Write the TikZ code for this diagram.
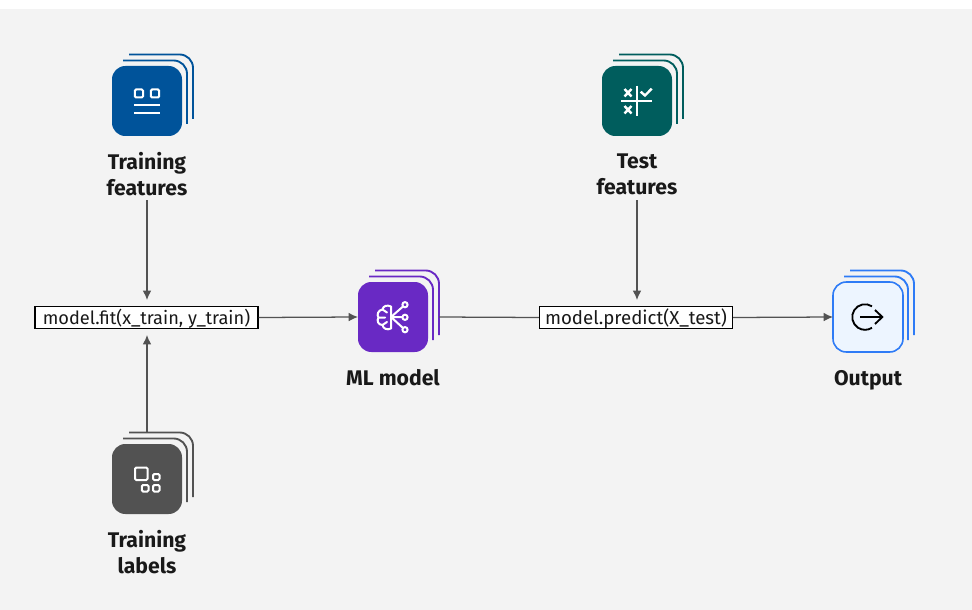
\documentclass[tikz,border=0pt]{standalone}
\usepackage{fontspec}
\setmainfont{Fira Sans}
\definecolor{bgc}{HTML}{F3F3F3}
\definecolor{cblue}{HTML}{00539A}
\definecolor{cteal}{HTML}{005D5D}
\definecolor{cpurple}{HTML}{6929C4}
\definecolor{cgray}{HTML}{525252}
\definecolor{cout}{HTML}{2E7BF6}
\definecolor{coutf}{HTML}{EDF5FF}
\definecolor{arrowc}{HTML}{525252}
\usetikzlibrary{arrows.meta}
\tikzset{
  x=0.75pt,y=-0.75pt,
  cardstack/.style={line width=1.4pt,rounded corners=10pt},
  cardnode/.style={minimum width=52.5pt,minimum height=52.5pt,rounded corners=10pt,inner sep=0pt,outer sep=0pt},
  caption/.style={font=\bfseries\fontsize{15.9}{19.5}\selectfont,align=center,text=black!90,inner sep=0pt},
  codebox/.style={draw=black,line width=1.2pt,fill=white,inner sep=0pt,minimum height=16.5pt,text=black!90},
  codetext/.style={text=black!90,inner sep=0pt},
  flow/.style={draw=arrowc,line width=0.95pt,-{Latex[length=7pt,width=6.5pt]}},
  plainflow/.style={draw=arrowc,line width=0.95pt},
  glyph/.style={white,line width=1.5pt},
}
\newcommand{\stack}[3]{% x,y top-left of front card, colour
  \draw[#3,cardstack] (#1+11,#2-5.5) -- (#1+75,#2-5.5) -- (#1+75,#2+58);
  \draw[#3,cardstack] (#1+17,#2-11.5) -- (#1+81,#2-11.5) -- (#1+81,#2+53);
}
\begin{document}
\begin{tikzpicture}
\useasboundingbox (0,0) rectangle (972,610);
\fill[white] (0,0) rectangle (972,610);
\fill[bgc] (0,9) rectangle (972,610);

% stacks
\stack{112}{66}{cblue}
\stack{602}{66}{cteal}
\stack{358}{282}{cpurple}
\stack{833}{282}{cout}
\stack{112}{444}{cgray}

% cards
\node[cardnode,fill=cblue] (tf) at (147,101) {};
\node[cardnode,fill=cteal] (te) at (637,101) {};
\node[cardnode,fill=cpurple] (ml) at (393,317) {};
\node[cardnode,fill=coutf,draw=cout,line width=1.2pt] (ou) at (868,317) {};
\node[cardnode,fill=cgray] (tl) at (147,479) {};

% captions
\node[caption] (tfc) at (147,174) {Training\\features};
\node[caption] (tec) at (637,174.5) {Test\\features};
\node[caption] (mlc) at (393,378) {ML model};
\node[caption] (ouc) at (868,380) {Output};
\node[caption] (tlc) at (147,552) {Training\\labels};

% code boxes
\node[codebox,minimum width=167pt] (fit) at (146.5,317.5) {};
\node[codetext,font=\fontsize{13.65}{15}\selectfont] (fittext) at (146.5,319) {model.fit(x\_train, y\_train)};
\node[codebox,minimum width=144.5pt] (pred) at (636,317.5) {};
\node[codetext,font=\fontsize{14}{15}\selectfont] (predtext) at (636,319) {model.predict(X\_test)};

% connectors
\coordinate (fittop) at (147,300);
\coordinate (fitbot) at (147,335);
\coordinate (predtop) at (637,300);
\coordinate (tfstart) at (147,200);
\coordinate (testart) at (637,200);
\coordinate (tlstart) at (147,433);
\coordinate (mlout) at (439,317);
\draw[flow] (tfstart) -- (fittop);
\draw[flow] (tlstart) -- (fitbot);
\draw[flow] (fit.east) -- (ml.west);
\draw[plainflow] (mlout) -- (pred.west);
\draw[flow] (testart) -- (predtop);
\draw[flow] (pred.east) -- (ou.west);

% icon: training features
\draw[glyph,rounded corners=1pt] (134.8,89.5) rectangle (143,97.5);
\draw[glyph,rounded corners=1pt] (150.8,89.5) rectangle (159.2,97.5);
\draw[glyph] (134,105.3) -- (160,105.3);
\draw[glyph] (134,113) -- (160,113);

% icon: test features
\draw[glyph] (636.7,85.7) -- (636.7,116);
\draw[glyph] (621,101) -- (652,101);
\draw[glyph,line width=1.8pt] (624.5,89) -- (631.5,96.5) (631.5,89) -- (624.5,96.5);
\draw[glyph,line width=1.8pt] (624.5,106) -- (631.5,113.5) (631.5,106) -- (624.5,113.5);
\draw[glyph,line width=1.8pt] (640.7,91.7) -- (645,95.5) -- (651.7,88.7);

% icon: ML model
\draw[glyph,line cap=round,line join=round] (391,306.5) .. controls (387,304.5) and (383,306) .. (382.5,309.5) .. controls (378,310) and (376.5,315) .. (378.5,317.5) .. controls (376.5,320.5) and (378,325) .. (382.5,325) .. controls (383,328.5) and (387,330.5) .. (391,328.5) -- (391,306.5);
\draw[glyph,line cap=round] (378.5,317.5) -- (385,317.5) (382.5,309.5) -- (387,312.5) (382.5,325) -- (387,322);
\draw[glyph] (391,317) -- (402.3,317.2) (391,317) -- (403,306.5) (391,317) -- (403,328);
\draw[glyph,fill=cpurple] (405,304.7) circle[radius=2.6];
\draw[glyph,fill=cpurple] (405,317.3) circle[radius=2.6];
\draw[glyph,fill=cpurple] (405,329.7) circle[radius=2.6];

% icon: output
\draw[black,line width=1.4pt] (872,306.3) arc[start angle=-57,end angle=-303,radius=12.8];
\draw[black,line width=1.4pt] (860,317) -- (882,317);
\draw[black,line width=1.4pt] (875,310) -- (882.3,317) -- (875,324);

% icon: training labels
\draw[white,line width=1.5pt,rounded corners=1pt] (135,467.5) rectangle (147.5,480);
\draw[white,line width=1.5pt,rounded corners=1pt] (153,474) rectangle (159.5,480);
\draw[white,line width=1.5pt,rounded corners=1pt] (141.8,485) rectangle (148.5,491.5);
\draw[white,line width=1.5pt,rounded corners=1pt] (153,485) rectangle (159.5,491.5);
\end{tikzpicture}
\end{document}
